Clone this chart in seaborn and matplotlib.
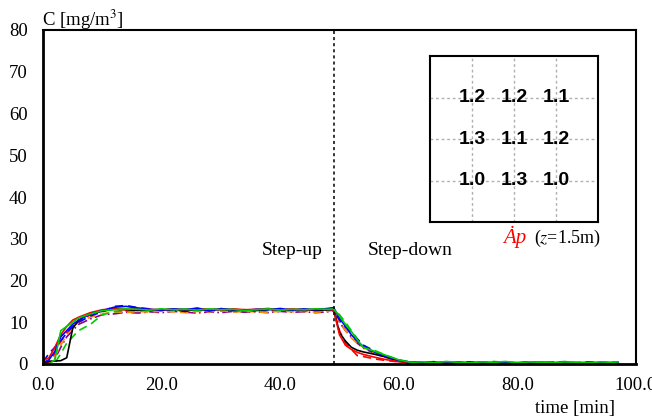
"""
Step-up / step-down concentration response at nine sampling points (z=1.5m).
"""

import pandas as pd
import matplotlib
matplotlib.use("Agg")
import matplotlib.pyplot as plt
from matplotlib.ticker import MultipleLocator, FormatStrFormatter
import seaborn as sns

sns.set_style("white")
plt.rcParams["font.family"] = ["Liberation Serif", "DejaVu Serif"]
plt.rcParams["mathtext.fontset"] = "stix"
plt.rcParams["text.color"] = "black"

# time [min]
time = [0, 1, 2, 3, 4, 5, 6,
        8, 10, 12, 14, 16, 18, 20, 22, 24, 26, 28, 30, 32, 34, 36, 38, 40, 42, 44, 46, 48,
        49, 50, 51, 52, 53, 54,
        56, 58, 60, 62, 64, 66, 68, 70, 72, 74, 76, 78, 80, 82, 84, 86, 88, 90, 92, 94, 96,
        97]

# concentration [mg/m3] per sampling point
c_black = [0.3, 0.6, 0.7, 0.8, 1.5, 8.5, 10.5,
           12.2, 12.6, 13.2, 13.0, 12.8, 13.0, 12.9, 13.1, 12.8, 13.0, 12.9, 13.2, 12.9, 13.0, 12.8, 13.1, 13.0, 12.9, 13.1, 12.8, 13.0,
           13.2, 7.5, 5.5, 4.0, 3.3, 2.9,
           2.3, 1.6, 0.6, 0.4, 0.3, 0.2, 0.3, 0.2, 0.3, 0.1, 0.3, 0.2, 0.3, 0.4, 0.2, 0.3, 0.2, 0.3, 0.2, 0.3, 0.2,
           0.3]
c_red = [0.8, 1.5, 4.0, 7.0, 9.0, 10.5, 11.2,
         12.3, 13.0, 13.2, 13.0, 13.3, 13.1, 12.9, 13.2, 13.0, 13.3, 13.1, 12.9, 13.2, 13.0, 13.1, 13.3, 12.9, 13.2, 13.0, 13.1, 13.2,
         13.0, 7.0, 4.5, 3.5, 2.8, 2.3,
         1.6, 1.0, 0.6, 0.3, 0.4, 0.2, 0.3, 0.5, 0.2, 0.3, 0.4, 0.2, 0.3, 0.2, 0.4, 0.3, 0.2, 0.3, 0.4, 0.2, 0.3,
         0.3]
c_green = [0.0, 0.0, 1.0, 8.0, 9.0, 10.0, 11.0,
           12.0, 12.8, 13.0, 13.2, 13.1, 12.9, 13.2, 13.0, 13.1, 12.9, 13.2, 13.0, 13.1, 12.8, 13.0, 13.2, 12.9, 13.1, 13.0, 13.2, 13.1,
           13.2, 11.5, 9.5, 7.8, 5.8, 4.0,
           3.0, 2.0, 1.0, 0.4, 0.5, 0.3, 0.6, 0.4, 0.3, 0.5, 0.4, 0.6, 0.3, 0.5, 0.4, 0.3, 0.5, 0.4, 0.3, 0.5, 0.4,
           0.5]
c_blue = [0.3, 1.0, 3.0, 6.5, 8.0, 9.5, 10.5,
          12.0, 12.8, 13.6, 13.8, 13.4, 13.1, 12.9, 13.2, 13.0, 13.4, 12.7, 13.2, 13.0, 12.8, 13.1, 13.0, 13.3, 12.9, 13.2, 13.0, 13.3,
          13.5, 11.0, 9.0, 7.0, 5.5, 4.2,
          2.8, 1.7, 0.9, 0.4, 0.3, 0.5, 0.2, 0.4, 0.3, 0.5, 0.2, 0.4, 0.3, 0.2, 0.4, 0.3, 0.5, 0.3, 0.2, 0.4, 0.3,
          0.4]
c_red_d = [0.0, 0.5, 2.5, 5.5, 7.5, 9.0, 10.2,
           11.8, 12.8, 13.1, 12.7, 13.0, 12.8, 13.2, 12.9, 12.6, 13.0, 12.8, 13.1, 12.7, 12.9, 13.0, 12.7, 13.1, 12.9, 12.8, 13.0, 12.9,
           12.8, 8.0, 5.0, 3.5, 2.0, 1.8,
           1.2, 0.8, 0.5, 0.2, 0.3, 0.1, 0.3, 0.2, 0.1, 0.3, 0.2, 0.4, 0.1, 0.3, 0.2, 0.1, 0.3, 0.2, 0.3, 0.1, 0.2,
           0.2]
c_blue_d = [0.5, 2.5, 4.0, 5.5, 7.5, 9.0, 10.0,
            11.5, 12.5, 13.8, 14.0, 13.5, 13.2, 12.8, 13.0, 12.6, 13.1, 12.9, 13.3, 12.8, 13.0, 12.7, 13.2, 12.9, 13.1, 12.8, 13.0, 13.1,
            13.0, 10.5, 8.8, 7.5, 6.0, 4.5,
            2.9, 1.8, 0.8, 0.3, 0.5, 0.2, 0.4, 0.3, 0.5, 0.2, 0.4, 0.3, 0.2, 0.5, 0.3, 0.4, 0.2, 0.3, 0.5, 0.2, 0.3,
            0.3]
c_green_d = [0.0, 0.0, 0.2, 2.5, 5.0, 6.5, 8.0,
             9.5, 11.8, 12.5, 12.8, 13.0, 12.7, 13.1, 12.9, 13.2, 12.8, 13.0, 12.7, 13.1, 12.9, 13.0, 12.8, 13.1, 13.0, 12.9, 13.1, 13.0,
             13.2, 11.8, 10.0, 8.0, 6.0, 4.5,
             3.2, 2.0, 1.0, 0.5, 0.3, 0.6, 0.4, 0.2, 0.5, 0.3, 0.6, 0.4, 0.3, 0.5, 0.2, 0.4, 0.6, 0.3, 0.5, 0.4, 0.5,
             0.4]
c_orange_d = [0.0, 0.3, 1.8, 4.5, 7.0, 8.8, 10.0,
              11.2, 12.0, 12.5, 12.3, 12.6, 12.4, 12.7, 12.5, 12.3, 12.6, 12.5, 12.8, 12.4, 12.6, 12.5, 12.3, 12.7, 12.5, 12.6, 12.4, 12.6,
              13.0, 10.0, 8.0, 6.2, 5.0, 4.0,
              2.5, 1.5, 0.7, 0.3, 0.2, 0.4, 0.1, 0.3, 0.2, 0.4, 0.1, 0.3, 0.2, 0.4, 0.3, 0.1, 0.3, 0.2, 0.4, 0.2, 0.3,
              0.2]
c_purple_dd = [0.0, 0.2, 1.2, 4.0, 6.5, 8.0, 9.5,
               10.8, 11.8, 12.0, 12.4, 12.2, 12.5, 12.3, 12.6, 12.4, 12.2, 12.5, 12.3, 12.6, 12.4, 12.5, 12.3, 12.6, 12.4, 12.5, 12.3, 12.5,
               12.8, 10.0, 8.0, 6.5, 5.0, 3.8,
               2.5, 1.5, 0.6, 0.2, 0.1, 0.0, 0.2, 0.1, -0.2, 0.1, 0.0, -0.3, 0.1, 0.2, 0.0, 0.1, 0.2, 0.0, 0.1, 0.2, 0.1,
               0.1]

# relative values shown in the inset (rows top to bottom)
grid_values = [[1.2, 1.2, 1.1],
               [1.3, 1.1, 1.2],
               [1.0, 1.3, 1.0]]

step_time = 49

series = [
    (c_purple_dd, "#8b008b", (0, (6, 2, 1, 2))),
    (c_orange_d, "#ff8c00", (0, (5, 3))),
    (c_red_d, "#ff0000", (0, (5, 3))),
    (c_green_d, "#00cc00", (0, (5, 3))),
    (c_blue_d, "#0000ff", (0, (5, 3))),
    (c_black, "#000000", "-"),
    (c_red, "#ff0000", "-"),
    (c_blue, "#0000ff", "-"),
    (c_green, "#00cc00", "-"),
]

fig = plt.figure(figsize=(6.52, 4.18), dpi=100)
ax = fig.add_axes([43 / 652, 54 / 418, 593 / 652, 334 / 418])

for vals, col, ls in series:
    assert len(vals) == len(time)
    sns.lineplot(x=time, y=vals, color=col, linestyle=ls, linewidth=1.2, ax=ax)

ax.axvline(step_time, color="black", linestyle=(0, (2, 2)), linewidth=1.1)

ax.set_xlim(0, 100)
ax.set_ylim(0, 80)
ax.xaxis.set_major_locator(MultipleLocator(20))
ax.xaxis.set_minor_locator(MultipleLocator(5))
ax.yaxis.set_major_locator(MultipleLocator(10))
ax.yaxis.set_minor_locator(MultipleLocator(2))
ax.xaxis.set_major_formatter(FormatStrFormatter("%.1f"))
ax.tick_params(axis="both", which="both", direction="in", labelsize=13.5,
               colors="black", labelcolor="black")
ax.tick_params(axis="y", which="major", length=11, width=1.5, pad=11)
ax.tick_params(axis="y", which="minor", length=6, width=1.2)
ax.tick_params(axis="x", which="major", length=8, width=1.5, pad=9)
ax.tick_params(axis="x", which="minor", length=5, width=1.2)
for side in ["left", "bottom"]:
    ax.spines[side].set_linewidth(2)
for side in ["top", "right"]:
    ax.spines[side].set_linewidth(1.5)
for sp in ax.spines.values():
    sp.set_color("black")
ax.set_xlabel("")
ax.set_ylabel("")

fig.text(42 / 652, 1 - 26 / 418, "C [mg/m$^3$]", fontsize=13.5, va="baseline", ha="left")
fig.text(615 / 652, 1 - 413 / 418, "time [min]", fontsize=13.5, va="baseline", ha="right")

ax.text(47.2, 26.1, "Step-up", fontsize=14, ha="right", va="baseline")
ax.text(54.8, 26.1, "Step-down", fontsize=14, ha="left", va="baseline")
ax.text(81.6, 29.0, "Ȧp", fontsize=15, color="red", style="italic",
        ha="right", va="baseline", family=["Liberation Serif", "DejaVu Serif"])
ax.text(82.8, 29.0, "($z$=1.5m)", fontsize=13, ha="left", va="baseline")

# inset: plan of the sampling grid
inset = fig.add_axes([430 / 652, 1 - 222 / 418, 168 / 652, 166 / 418])
inset.set_xlim(0, 4)
inset.set_ylim(4, 0)
inset.set_xticks([])
inset.set_yticks([])
for k in [1, 2, 3]:
    inset.axvline(k, color="#b0b0b0", linestyle=(0, (2, 2)), linewidth=1)
    inset.axhline(k, color="#b0b0b0", linestyle=(0, (2, 2)), linewidth=1)
for sp in inset.spines.values():
    sp.set_linewidth(1.5)
    sp.set_color("black")
for r, row in enumerate(grid_values):
    for c, v in enumerate(row):
        inset.text(c + 1, r + 1, f"{v:.1f}", fontsize=14, fontweight="bold", color="black",
                   family=["Liberation Sans", "DejaVu Sans"], ha="center", va="center")

fig.savefig("out.png", dpi=100)
